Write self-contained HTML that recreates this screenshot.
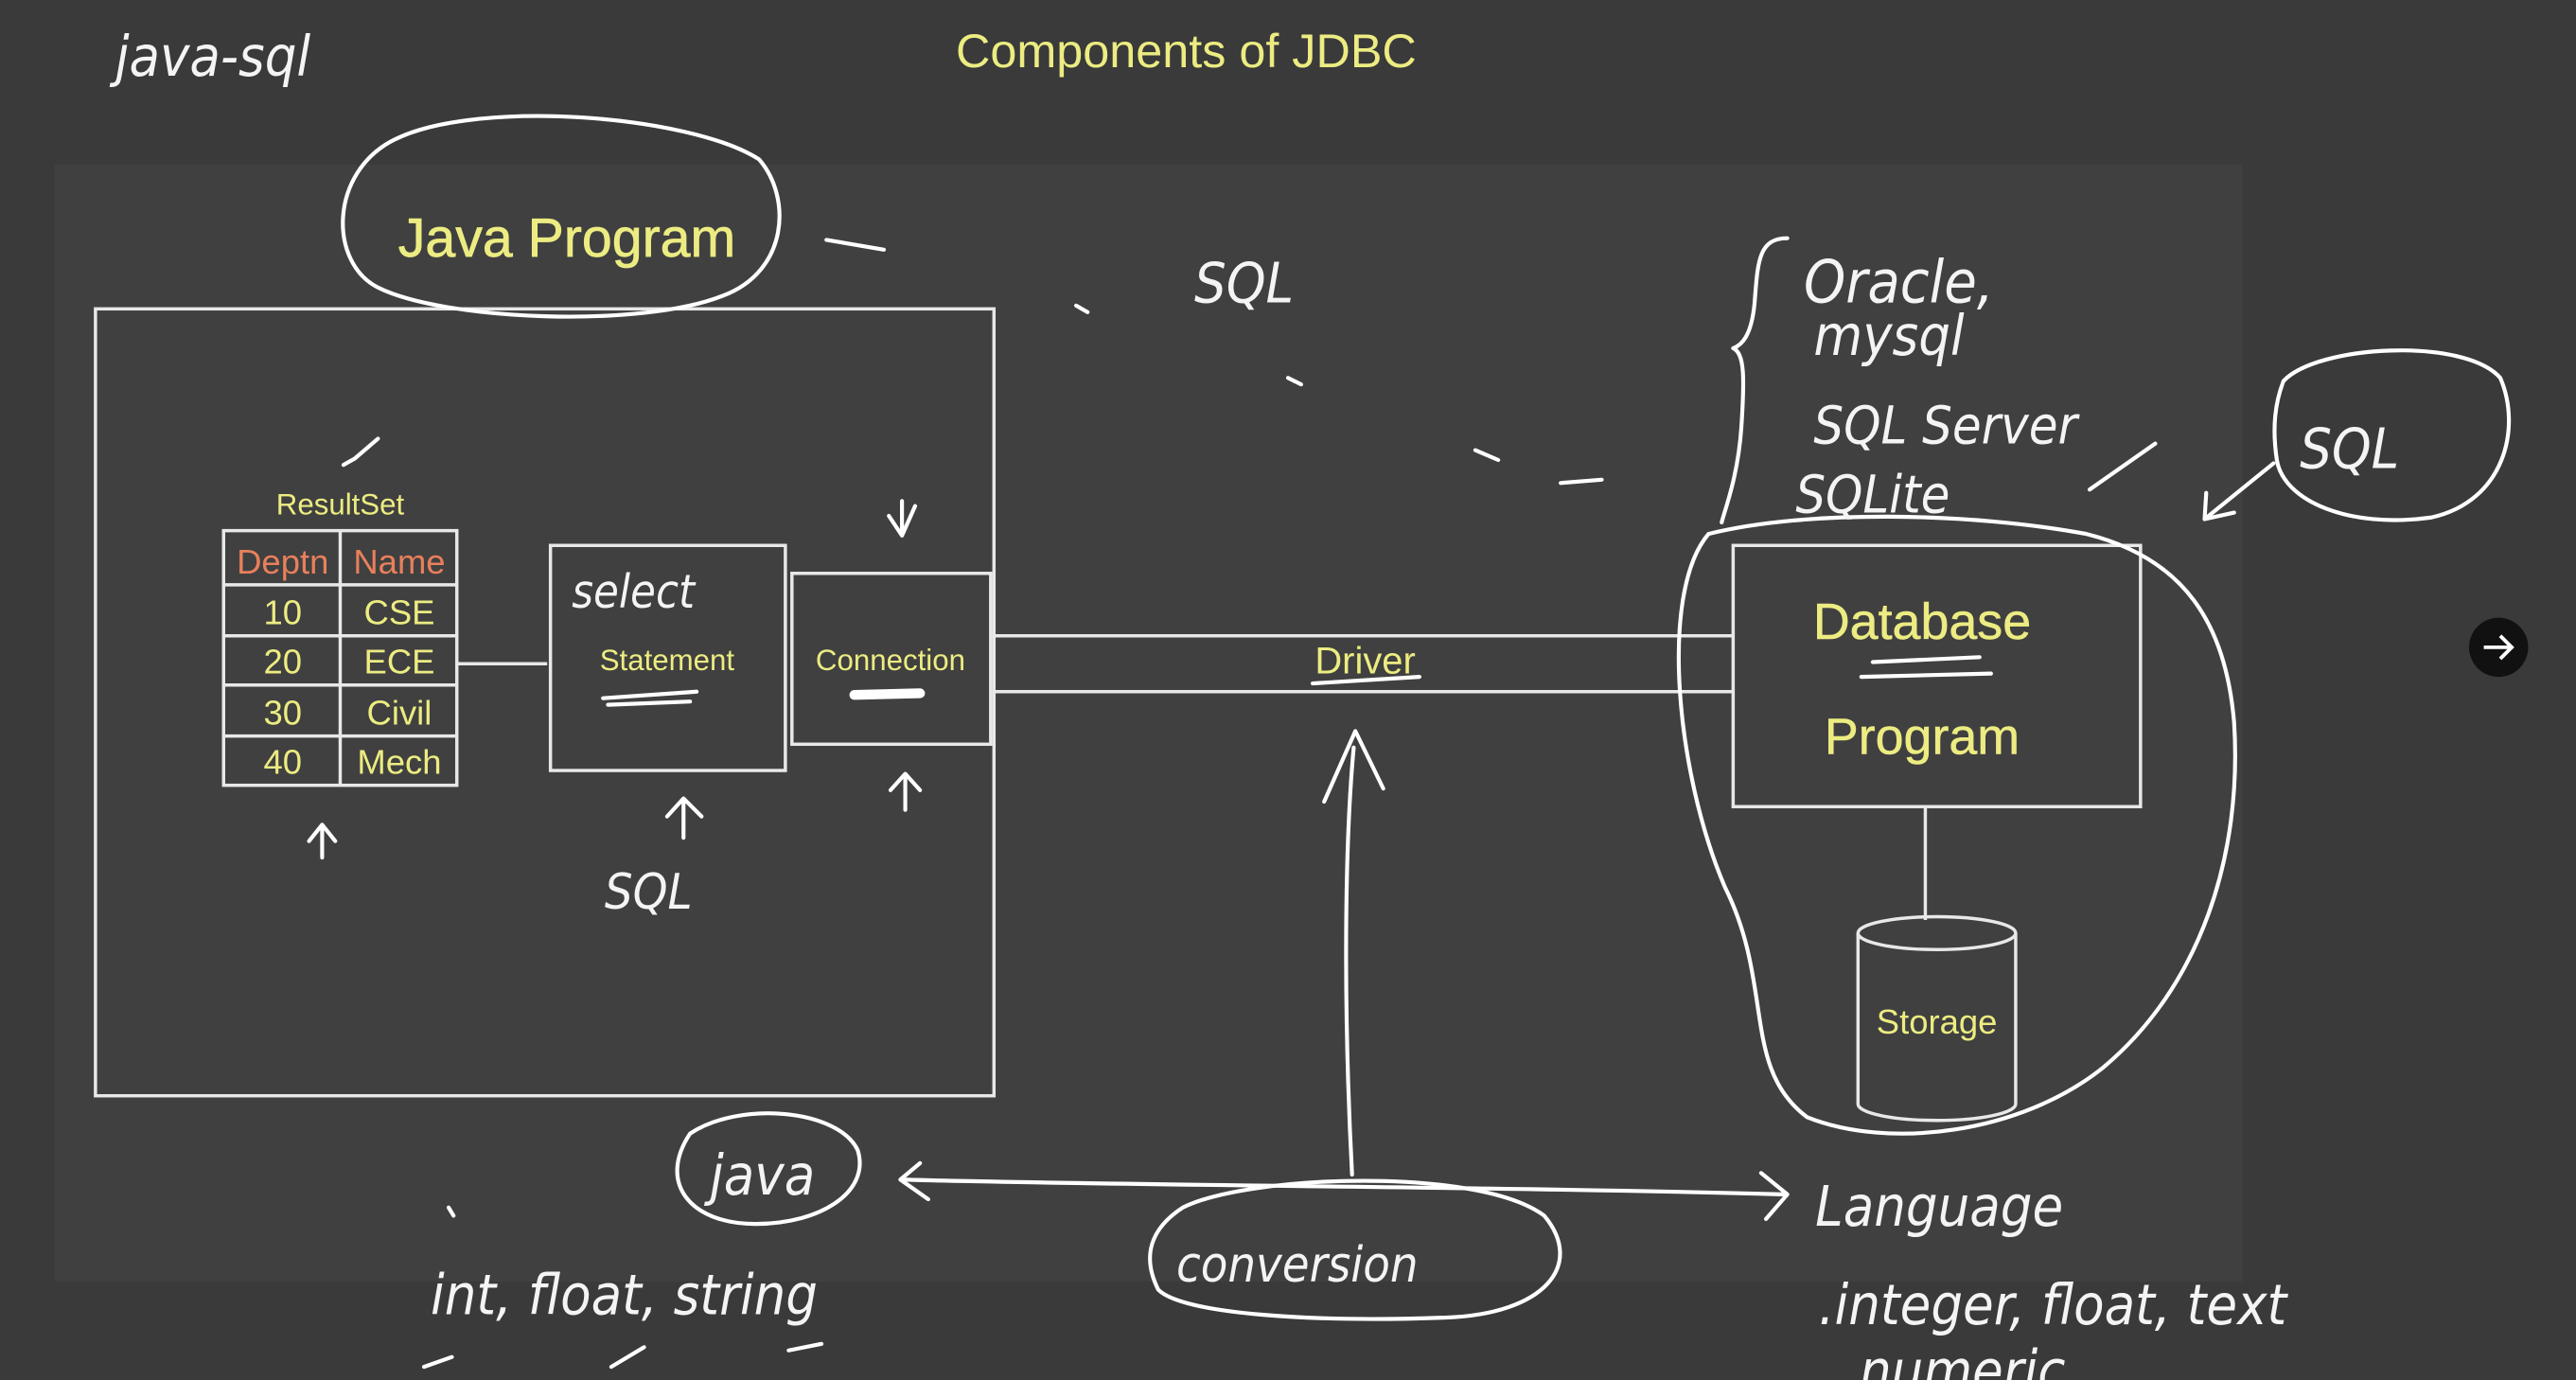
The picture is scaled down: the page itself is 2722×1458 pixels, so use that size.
<!DOCTYPE html>
<html><head><meta charset="utf-8"><style>
html,body{margin:0;padding:0;background:#3b3b3b;overflow:hidden}
svg{display:block}
.y{fill:#ecec82;font-family:"Liberation Sans",sans-serif;text-anchor:middle}
.o{fill:#e8805c;font-family:"Liberation Sans",sans-serif;text-anchor:middle}
.h{fill:#f4f4f4;font-family:"DejaVu Sans",sans-serif;font-style:italic;font-weight:300;font-stretch:condensed}
.w{stroke:#e8e8e8;stroke-width:2;fill:none}
.p{stroke:#ffffff;stroke-width:2.4;fill:none;stroke-linecap:round;stroke-linejoin:round}
</style></head><body>
<svg width="2722" height="1458" viewBox="0 0 1568 840" xmlns="http://www.w3.org/2000/svg">
<rect x="0" y="0" width="1568" height="840" fill="#3a3a3a"/>
<rect x="33" y="100" width="1332" height="680" fill="#404040"/>
<text class="y" x="722" y="41" font-size="29">Components of JDBC</text>
<text class="h" x="70" y="46" font-size="34">java-sql</text>

<rect class="w" x="58" y="188" width="547" height="479"/>
<path class="p" d="M462,97 C420,70 290,60 240,85 C200,105 200,160 230,175 C270,195 390,200 440,180 C480,165 482,120 462,97"/>
<text class="y" x="345" y="156" font-size="33" stroke="#ecec82" stroke-width="0.4">Java Program</text>
<path class="p" d="M503,146 L538,152"/>
<path class="p" d="M655,186 L662,190"/>
<text class="h" x="727" y="184" font-size="34">SQL</text>
<path class="p" d="M784,230 L792,234 M898,274 L912,280 M950,294 L975,292"/>

<text class="y" x="207" y="313" font-size="18">ResultSet</text>
<path class="p" d="M209,283 L216,279 L230,267"/>
<rect class="w" x="136" y="323" width="142" height="155"/>
<line class="w" x1="207" y1="323" x2="207" y2="478"/>
<line class="w" x1="136" y1="356" x2="278" y2="356"/>
<line class="w" x1="136" y1="387" x2="278" y2="387"/>
<line class="w" x1="136" y1="417" x2="278" y2="417"/>
<line class="w" x1="136" y1="448" x2="278" y2="448"/>
<text class="o" x="172" y="349" font-size="21">Deptn</text>
<text class="o" x="243" y="349" font-size="21">Name</text>
<text class="y" x="172" y="380" font-size="21">10</text><text class="y" x="243" y="380" font-size="21">CSE</text>
<text class="y" x="172" y="410" font-size="21">20</text><text class="y" x="243" y="410" font-size="21">ECE</text>
<text class="y" x="172" y="441" font-size="21">30</text><text class="y" x="243" y="441" font-size="21">Civil</text>
<text class="y" x="172" y="471" font-size="21">40</text><text class="y" x="243" y="471" font-size="21">Mech</text>
<line class="w" x1="278" y1="404" x2="333" y2="404"/>

<rect class="w" x="335" y="332" width="143" height="137"/>
<text class="y" x="406" y="408" font-size="18">Statement</text>
<text class="h" x="348" y="370" font-size="28">select</text>
<path class="p" d="M367,425 L424,421 M370,429 L420,427"/>
<rect class="w" x="482" y="349" width="121" height="104"/>
<text class="y" x="542" y="408" font-size="18">Connection</text>
<path d="M520,423 L560,422" stroke="#fff" stroke-width="6" stroke-linecap="round"/>
<path class="p" d="M549,305 L549,326 M541,314 L549,326 L557,308"/>
<path class="p" d="M196,522 L196,502 M188,512 L196,502 L204,512"/>
<path class="p" d="M416,510 L416,486 M406,497 L416,486 L427,497"/>
<text class="h" x="368" y="553" font-size="30">SQL</text>
<path class="p" d="M551,493 L551,471 M542,481 L551,471 L560,481"/>

<line class="w" x1="605" y1="387" x2="1055" y2="387"/>
<line class="w" x1="605" y1="421" x2="1055" y2="421"/>
<text class="y" x="831" y="410" font-size="23">Driver</text>
<path class="p" d="M799,416 L864,412"/>
<path class="p" d="M823,715 C818,620 818,520 824,455 M806,488 L825,445 L842,480"/>

<rect class="w" x="1055" y="332" width="248" height="159"/>
<text class="y" x="1170" y="389" font-size="31" stroke="#ecec82" stroke-width="0.3">Database</text>
<path class="p" d="M1140,403 L1205,400 M1133,412 L1212,410"/>
<text class="y" x="1170" y="459" font-size="31" stroke="#ecec82" stroke-width="0.3">Program</text>
<line class="w" x1="1172" y1="491" x2="1172" y2="560"/>
<path class="w" d="M1131,568 L1131,672 A48,10 0 0 0 1227,672 L1227,568"/>
<ellipse class="w" cx="1179" cy="568" rx="48" ry="10"/>
<text class="y" x="1179" y="629" font-size="21">Storage</text>
<path class="p" d="M1040,325 C1010,360 1020,470 1050,540 C1080,600 1060,650 1100,680 C1150,700 1230,690 1280,650 C1340,600 1365,520 1360,440 C1355,380 1330,340 1270,325 C1200,312 1100,310 1040,325"/>

<path class="p" d="M1088,145 C1070,145 1070,160 1068,185 C1066,205 1060,210 1055,212 C1062,215 1062,230 1060,260 C1058,290 1050,310 1048,318"/>
<text class="h" x="1098" y="184" font-size="36">Oracle,</text>
<text class="h" x="1104" y="216" font-size="34">mysql</text>
<text class="h" x="1104" y="270" font-size="32">SQL Server</text>
<text class="h" x="1093" y="312" font-size="32">SQLite</text>
<path class="p" d="M1272,298 L1312,270"/>
<path class="p" d="M1390,232 C1410,210 1500,205 1522,230 C1535,260 1525,305 1480,315 C1430,322 1390,305 1386,280 C1383,260 1385,245 1390,232"/>
<text class="h" x="1400" y="285" font-size="34">SQL</text>
<path class="p" d="M1384,282 L1342,316 M1343,300 L1342,316 L1360,312"/>

<circle cx="1521" cy="394" r="18" fill="#111"/>
<path d="M1512,394 L1529,394 M1522,387 L1529,394 L1522,401" stroke="#fff" stroke-width="2.2" fill="none"/>

<path class="p" d="M420,690 C450,670 510,675 522,700 C530,725 500,745 460,745 C420,745 400,720 420,690"/>
<text class="h" x="432" y="727" font-size="34">java</text>
<path class="p" d="M548,718 C700,722 900,722 1085,727 M560,708 L548,718 L565,730 M1072,714 L1088,727 L1075,742"/>
<path class="p" d="M720,735 C760,715 900,710 940,740 C965,770 940,800 880,802 C800,805 720,800 705,785 C695,765 700,748 720,735"/>
<text class="h" x="716" y="780" font-size="30">conversion</text>
<text class="h" x="1105" y="746" font-size="34">Language</text>
<text class="h" x="1107" y="806" font-size="34">.integer, float, text</text>
<text class="h" x="1132" y="846" font-size="34">numeric</text>
<text class="h" x="262" y="800" font-size="34">int, float, string</text>
<path class="p" d="M258,832 L275,826 M372,832 L392,820 M480,822 L500,818 M273,735 L276,740"/>
</svg>
</body></html>
